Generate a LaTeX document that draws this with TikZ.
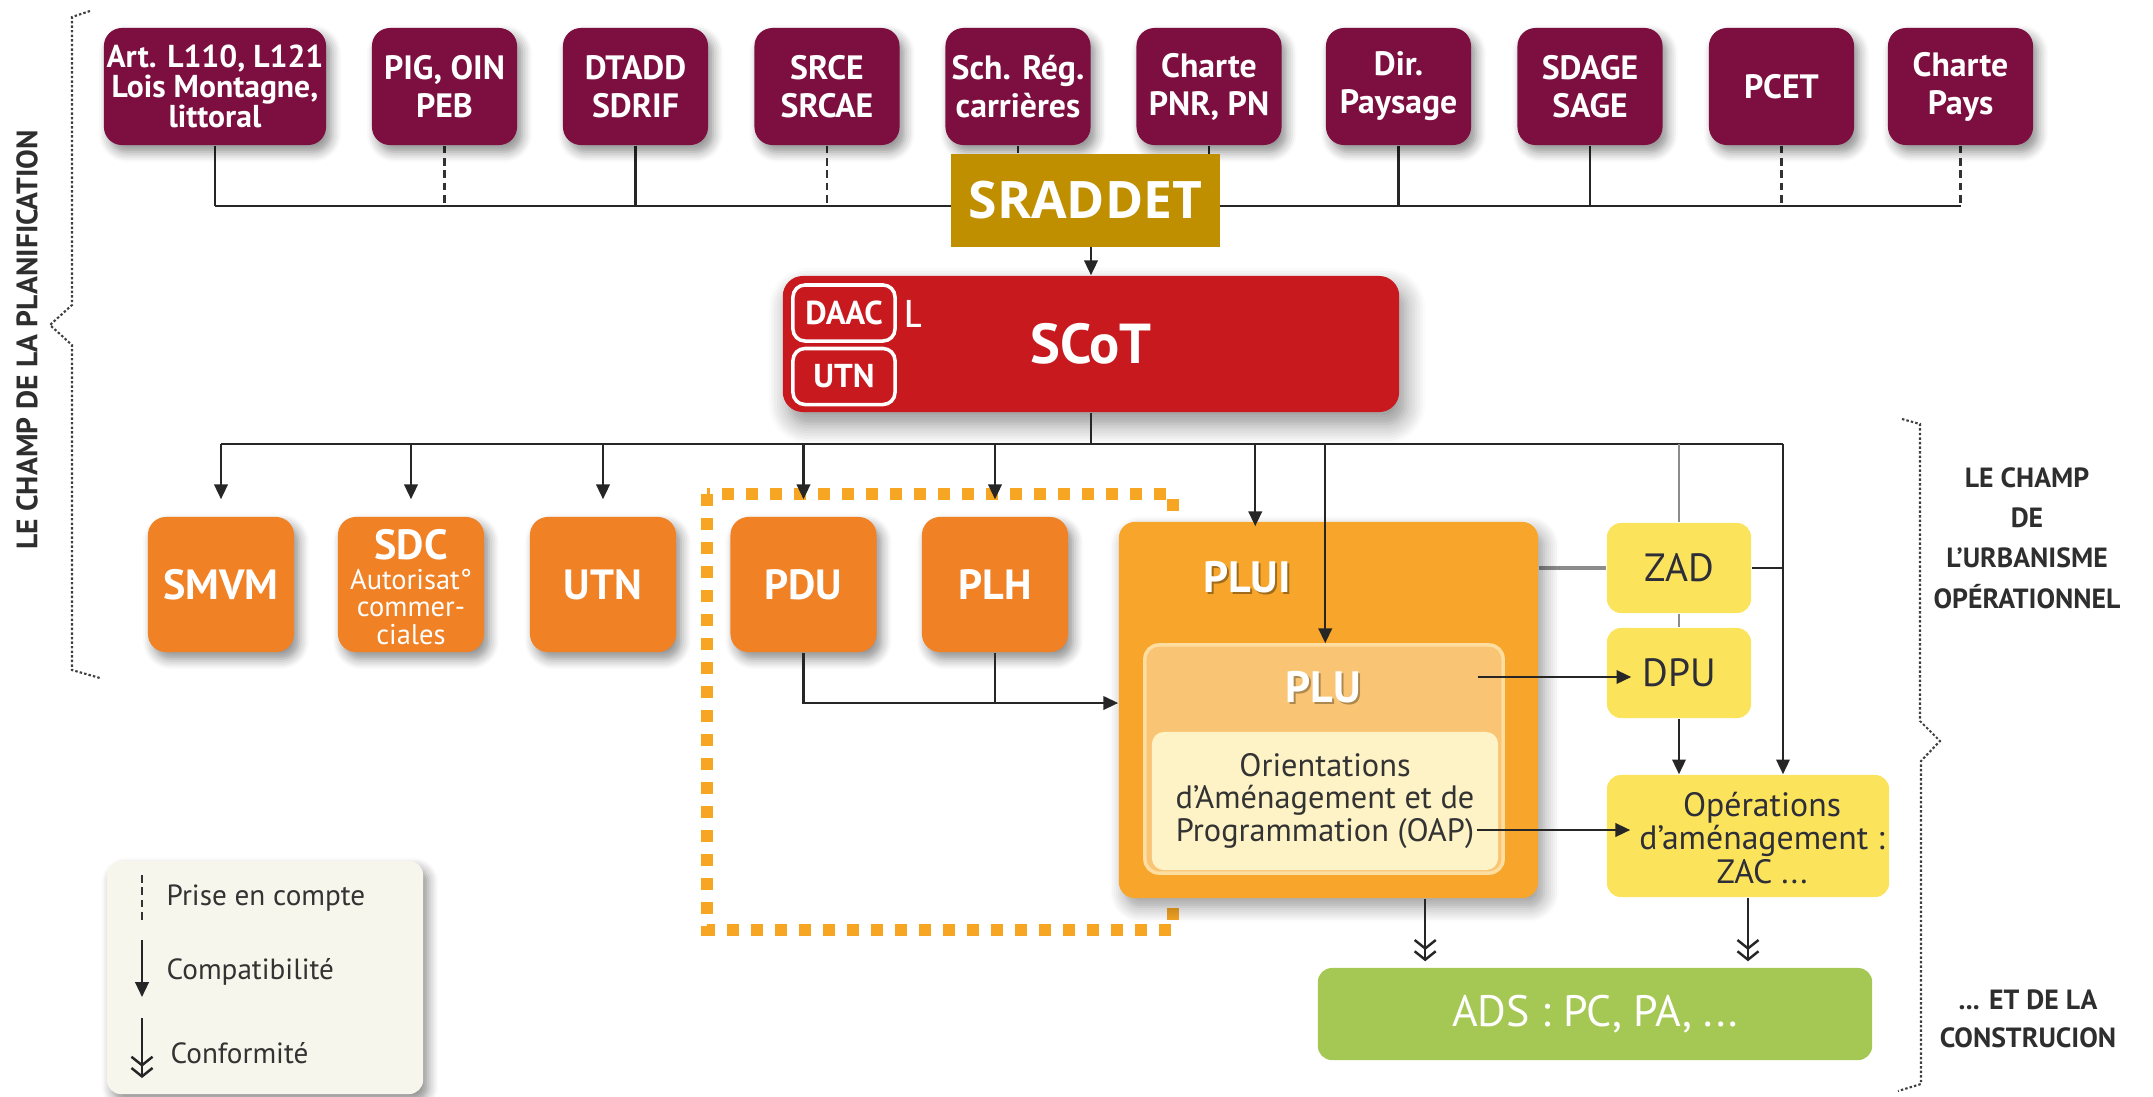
\documentclass[tikz,border=0pt]{standalone}
\usepackage{fontspec}
\setmainfont{PT Sans}
\newfontfamily\opensans{Open Sans}
\newfontfamily\carlito{Carlito}
\usetikzlibrary{arrows.meta,shadows.blur}
\definecolor{maroonb}{HTML}{7D0F40}
\definecolor{goldb}{HTML}{BF8F00}
\definecolor{scotred}{HTML}{C8191E}
\definecolor{orangeb}{HTML}{F08125}
\definecolor{pluiorange}{HTML}{F7A62B}
\definecolor{pluorange}{HTML}{F9C574}
\definecolor{pluborder}{HTML}{FDDDA0}
\definecolor{oapyellow}{HTML}{FDF3C6}
\definecolor{opyellow}{HTML}{FBE45C}
\definecolor{adsgreen}{HTML}{A4C853}
\definecolor{dotorange}{HTML}{F6A623}
\definecolor{legendbg}{HTML}{F7F6EC}
\definecolor{txtdark}{HTML}{2E2E38}
\pgfdeclarelayer{bg}
\pgfsetlayers{bg,main}
\begin{document}
\begin{tikzpicture}[x=0.01cm,y=-0.01cm,
  shad/.style={blur shadow={shadow xshift=0.5mm, shadow yshift=-0.7mm, shadow blur steps=6, shadow blur radius=1mm, shadow opacity=45}},
  topbox/.style={fill=maroonb, rounded corners=0.18cm, minimum width=1.45cm, minimum height=1.17cm, inner sep=0pt, text=white, align=center, font=\fontsize{9.6}{10.8}\selectfont\bfseries, shad},
  midbox/.style={fill=orangeb, rounded corners=0.18cm, minimum width=1.46cm, minimum height=1.35cm, inner sep=0pt, text=white, align=center, font=\fontsize{12}{13}\selectfont\bfseries, shad},
  ybox/.style={fill=opyellow, rounded corners=0.14cm, minimum width=1.44cm, minimum height=0.9cm, inner sep=0pt, text=txtdark, align=center, font=\fontsize{11.2}{12}\selectfont},
  inbox/.style={draw=white, line width=1pt, rounded corners=0.12cm, minimum width=1.02cm, minimum height=0.56cm, inner sep=0pt, text=white, font=\fontsize{9.4}{10}\selectfont\bfseries},
  lbl/.style={inner sep=0pt, text=white, font=\fontsize{12.5}{13}\selectfont\bfseries},
  sidetxt/.style={inner sep=0pt, text=black!82, align=center, font=\fontsize{7.9}{11.5}\selectfont\bfseries},
  legtxt/.style={inner sep=0pt, anchor=west, text=black!80, font=\fontsize{8.3}{9}\selectfont},
  conn/.style={line width=0.7pt, draw=black!85},
  pec/.style={line width=0.6pt, draw=black!80, dash pattern=on 2.2pt off 1.3pt},
  arr/.style={conn, -{Triangle[length=4.2pt,width=3.8pt]}},
  dbl/.style={conn, -{Straight Barb[length=2.4pt,width=6pt,line width=0.7pt] Straight Barb[length=2.4pt,width=6pt,line width=0.7pt]}},
  brace/.style={line width=0.6pt, draw=black!75, dash pattern=on 0.7pt off 0.6pt}
]
\useasboundingbox (0,0) rectangle (2153,1096);
\begin{pgfonlayer}{bg}
\fill[white] (0,0) rectangle (2153,1096);
\end{pgfonlayer}
% first transparency use, kept outside the page
\path[shad, fill=white] (-400,-400) rectangle (-380,-380);

% ---------- top row ----------
\node[topbox, minimum width=2.22cm, font=\fontsize{9}{8.6}\selectfont\bfseries] (b1) at (215,86.5) {Art. L110, L121\\Lois Montagne,\\littoral};
\node[topbox] (b2) at (444.5,86.5) {PIG, OIN\\PEB};
\node[topbox] (b3) at (635.5,86.5) {DTADD\\SDRIF};
\node[topbox] (b4) at (827,86.5) {SRCE\\SRCAE};
\node[topbox] (b5) at (1018,86.5) {Sch. Rég.\\carrières};
\node[topbox] (b6) at (1209,86.5) {Charte\\PNR, PN};
\node[topbox] (b7) at (1398.5,86.5) {Dir.\\Paysage};
\node[topbox] (b8) at (1590,86.5) {SDAGE\\SAGE};
\node[topbox] (b9) at (1781.5,86.5) {PCET};
\node[topbox] (b10) at (1960.5,86.5) {Charte\\Pays};
\coordinate (hl) at (0,206);

\node[fill=goldb, minimum width=2.69cm, minimum height=0.92cm, inner sep=0pt, text=white, font=\opensans\fontsize{14.7}{15}\selectfont\bfseries] (srad) at (1085.5,200.5) {SRADDET};

% ---------- SCoT ----------
\node[fill=scotred, rounded corners=0.2cm, minimum width=6.16cm, minimum height=1.36cm, inner sep=0pt, text=white, font=\fontsize{16}{17}\selectfont\bfseries, blur shadow={shadow xshift=0.6mm, shadow yshift=-1.2mm, shadow blur steps=8, shadow blur radius=2mm, shadow opacity=45}] (scot) at (1091,344) {SCoT};
\node[inbox] (daac) at (844,313) {DAAC};
\node[inbox] (utns) at (844,376.5) {UTN};
\node[inner sep=0pt, text=white, font=\carlito\fontsize{12}{12}\selectfont] (lett) at (913,314) {L};
\coordinate (h2) at (0,444);
\coordinate (jr) at (1783,444);

% ---------- dotted frame (behind PLUI) ----------
\draw[draw=dotorange, line width=0.12cm, dash pattern=on 0.12cm off 0.12cm] (707,494) rectangle (1173,930);

% ---------- second row ----------
\node[midbox] (smvm) at (221,584.5) {SMVM};
\node[midbox] (sdc) at (411,584.5) {};
\node[lbl, font=\fontsize{12}{12}\selectfont\bfseries] (sdct) at (411,545) {SDC};
\node[inner sep=0pt, text=white, align=center, font=\fontsize{8.1}{7.8}\selectfont] (sdcs) at (411,607) {Autorisat°\\commer-\\ciales};
\node[midbox] (utn) at (603,584.5) {UTN};
\node[midbox] (pdu) at (803.5,584.5) {PDU};
\node[midbox] (plh) at (995,584.5) {PLH};

% ---------- PLUI / PLU / OAP ----------
\node[fill=pluiorange, rounded corners=0.16cm, minimum width=4.19cm, minimum height=3.76cm, inner sep=0pt, blur shadow={shadow xshift=0.6mm, shadow yshift=-0.9mm, shadow blur steps=8, shadow blur radius=1.5mm, shadow opacity=40}] (plui) at (1328.5,710) {};
\node[lbl, text=black, opacity=0.35] (pluish) at (1249,579.5) {PLUI};
\node[lbl] (pluit) at (1247,577) {PLUI};
\node[fill=pluorange, draw=pluborder, line width=1pt, rounded corners=0.14cm, minimum width=3.58cm, minimum height=2.28cm, inner sep=0pt] (plu) at (1324,759) {};
\node[lbl, text=black, opacity=0.3] (plush) at (1325,689.5) {PLU};
\node[lbl] (plut) at (1323,687) {PLU};
\node[fill=oapyellow, rounded corners=0.12cm, minimum width=3.46cm, minimum height=1.38cm, inner sep=0pt, align=center, text=black!80, font=\fontsize{9.2}{9.2}\selectfont] (oap) at (1325,801) {Orientations\\d’Aménagement et de\\Programmation (OAP)};

% ---------- yellow boxes ----------
\node[ybox] (zad) at (1679,568) {ZAD};
\node[ybox] (dpu) at (1679,673) {DPU};
\node[ybox, minimum width=2.82cm, minimum height=1.22cm] (ops) at (1748,836) {};
\node[inner sep=0pt, align=center, text=txtdark, font=\fontsize{9.6}{9.5}\selectfont] (opst) at (1762,838) {Opérations\\d’aménagement :\\ZAC ...};

% ---------- ADS ----------
\node[fill=adsgreen, rounded corners=0.14cm, minimum width=5.54cm, minimum height=0.92cm, inner sep=0pt, text=white, font=\fontsize{12.5}{13}\selectfont] (ads) at (1595,1014) {ADS : PC, PA, ...};

% ---------- legend ----------
\node[fill=legendbg, rounded corners=0.14cm, minimum width=3.16cm, minimum height=2.33cm, inner sep=0pt, shad] (leg) at (265,977.5) {};
\coordinate (lg1a) at (142,875); \coordinate (lg1b) at (142,923);
\coordinate (lg2a) at (142,940); \coordinate (lg2b) at (142,997);
\coordinate (lg3a) at (142,1018); \coordinate (lg3b) at (142,1078);
\draw[pec] (lg1a) -- (lg1b);
\draw[arr] (lg2a) -- (lg2b);
\draw[dbl] (lg3a) -- (lg3b);
\node[legtxt] (lgt1) at (166,898) {Prise en compte};
\node[legtxt] (lgt2) at (166,972) {Compatibilité};
\node[legtxt] (lgt3) at (170,1053) {Conformité};

% ---------- side texts and braces ----------
\node[sidetxt, rotate=90, font=\fontsize{8.4}{9}\selectfont\bfseries] (plan) at (27,340) {LE CHAMP DE LA PLANIFICATION};
\node[sidetxt] (urb) at (2027,538) {LE CHAMP\\DE\\L’URBANISME\\OPÉRATIONNEL};
\node[sidetxt, font=\fontsize{7.9}{10.8}\selectfont\bfseries] (cons) at (2028,1019) {... ET DE LA\\CONSTRUCION};
\draw[brace] (90,11) -- (72,17) -- (72,305) -- (50,325) -- (72,345) -- (72,670) -- (100,678);
\draw[brace] (1902,419) -- (1920,424) -- (1920,721) -- (1940,741) -- (1921,761) -- (1921,1084) -- (1898,1091);

% ---------- connectors: top ----------
\begin{pgfonlayer}{bg}
\draw[conn] (b1.south |- hl) -- (b10.south |- hl);
\draw[conn] (b1.south) -- (b1.south |- hl);
\draw[pec] (b2.south) -- (b2.south |- hl);
\draw[conn] (b3.south) -- (b3.south |- hl);
\draw[pec] (b4.south) -- (b4.south |- hl);
\draw[pec] (b5.south) -- (b5.south |- hl);
\draw[conn] (b6.south) -- (b6.south |- hl);
\draw[conn] (b7.south) -- (b7.south |- hl);
\draw[conn] (b8.south) -- (b8.south |- hl);
\draw[pec] (b9.south) -- (b9.south |- hl);
\draw[pec] (b10.south) -- (b10.south |- hl);
% line PLUI - ZAD - right vertical
\draw[line width=1pt, draw=black!45] (plui.east |- zad.west) -- (zad.west);
\draw[conn] (zad.east) -- (jr |- zad.east);
\end{pgfonlayer}
\draw[arr] (scot.north |- srad.south) -- (scot.north);

% ---------- connectors: SCoT to second level ----------
\draw[conn] (scot.south) -- (scot.south |- h2);
\draw[conn] (smvm.north |- h2) -- (jr);
\draw[arr] (smvm.north |- h2) -- ([yshift=0.17cm]smvm.north);
\draw[arr] (sdc.north |- h2) -- ([yshift=0.17cm]sdc.north);
\draw[arr] (utn.north |- h2) -- ([yshift=0.17cm]utn.north);
\draw[arr] (pdu.north |- h2) -- ([yshift=0.17cm]pdu.north);
\draw[arr] (plh.north |- h2) -- ([yshift=0.17cm]plh.north);
\coordinate (pluiIn) at ([xshift=1.37cm,yshift=-0.05cm]plui.north west);
\draw[arr] (pluiIn |- h2) -- (pluiIn);
\coordinate (pluIn) at ([xshift=1.82cm]plu.north west);
\draw[arr] (pluIn |- h2) -- (pluIn);
\draw[line width=0.6pt, draw=black!45] (zad.north |- h2) -- (zad.north);
\draw[line width=0.6pt, draw=black!45] (zad.south) -- (dpu.north);
\draw[arr] (dpu.south) -- (dpu.south |- ops.north);
\draw[arr] (jr) -- (jr |- ops.north);

% ---------- PDU / PLH to PLUI ----------
\coordinate (j3) at (0,703);
\draw[arr] (pdu.south) |- (plui.west |- j3);
\draw[conn] (plh.south) -- (plh.south |- j3);

% ---------- PLU -> DPU, OAP -> Ops ----------
\coordinate (pluOut) at ([xshift=-0.27cm]plu.east);
\coordinate (dpuIn) at ([xshift=0.25cm,yshift=-0.04cm]dpu.west);
\draw[arr] (pluOut |- dpuIn) -- (dpuIn);
\coordinate (oapOut) at ([xshift=-0.22cm]oap.east);
\coordinate (opsIn) at ([xshift=0.24cm,yshift=0.06cm]ops.west);
\draw[arr] (oapOut |- opsIn) -- (opsIn);

% ---------- conformity to ADS ----------
\coordinate (adsIn1) at ([xshift=1.08cm,yshift=0.06cm]ads.north west);
\draw[dbl] (adsIn1 |- plui.south) -- (adsIn1);
\coordinate (adsIn2) at ([yshift=0.06cm]ops.south |- ads.north);
\draw[dbl] (ops.south) -- (adsIn2);
\end{tikzpicture}
\end{document}
